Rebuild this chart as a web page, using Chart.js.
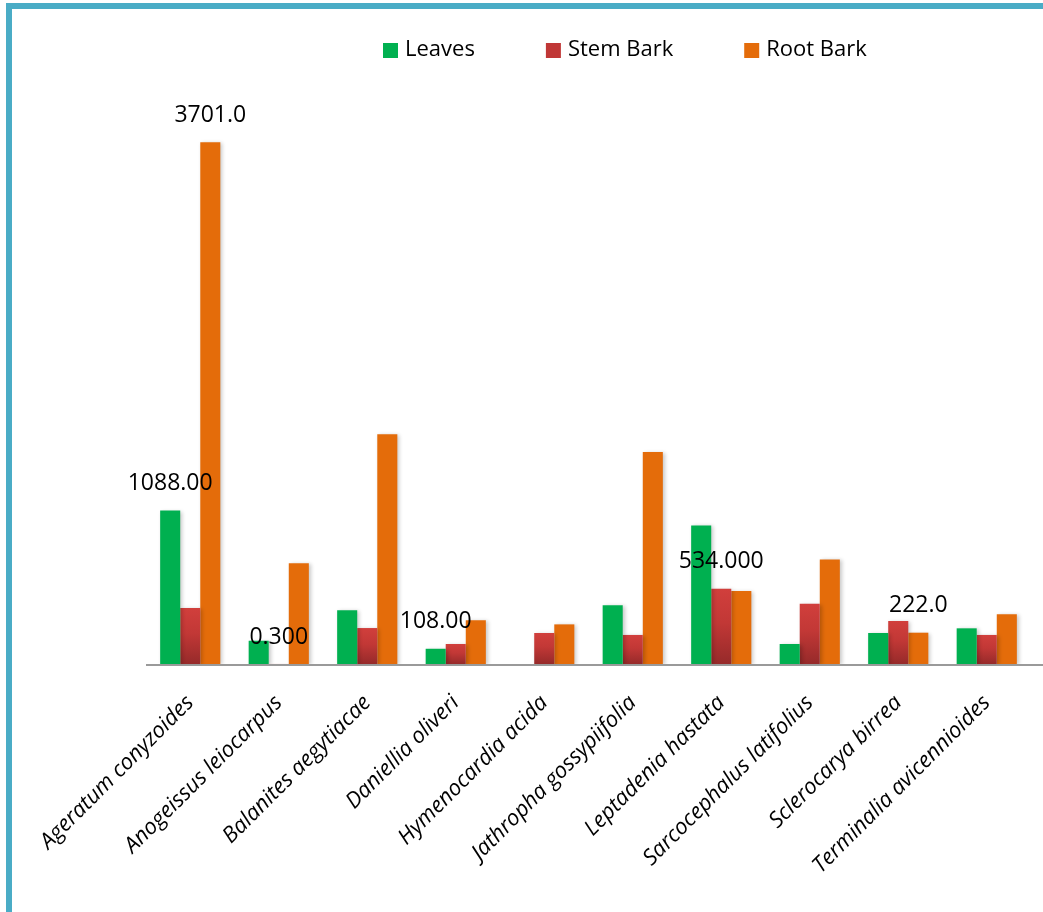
<!DOCTYPE html>
<html>
<head>
<meta charset="utf-8">
<script src="https://cdn.jsdelivr.net/npm/chart.js@4/dist/chart.umd.min.js"></script>
<style>
    body { margin: 0; background: #fff; }
    #wrap { position: relative; width: 1043px; height: 912px; overflow: hidden; }
    #frame {
        position: absolute; left: 6px; top: 3px; right: -10px; bottom: -10px;
        border-left: 6px solid #4aacc6; border-top: 6px solid #4aacc6;
    }
    canvas { position: absolute; left: 0; top: 0; }
</style>
</head>
<body>
<div id="wrap">
    <canvas id="chartPlants" width="1043" height="912"></canvas>
    <div id="frame"></div>
</div>
<script>
// 식물 이름
const categories = [
    'Ageratum conyzoides', 'Anogeissus leiocarpus', 'Balanites aegytiacae',
    'Daniellia oliveri', 'Hymenocardia acida', 'Jathropha gossypiifolia',
    'Leptadenia hastata', 'Sarcocephalus latifolius', 'Sclerocarya birrea',
    'Terminalia avicennioides'
];

// 부위별 값
const leaves   = [1088, 165, 381, 108, 0, 416, 983, 142, 220, 253];
const stemBark = [397, 0.3, 255, 142, 220, 206, 534, 428, 305, 206];
const rootBark = [3701, 714, 1629, 310, 281, 1503, 518, 742, 222, 352];

// 막대 위 숫자 라벨
const leavesLabels   = ['1088.00', '', '', '108.00', '', '', '', '', '', ''];
const stemBarkLabels = ['', '0.300', '', '', '', '', '534.000', '', '', ''];
const rootBarkLabels = ['3701.0', '', '', '', '', '', '', '', '222.0', ''];

const FONT = '"Open Sans", "DejaVu Sans", sans-serif';

// 줄기 껍질 막대 그라데이션
function stemGradient(context) {
    const chart = context.chart;
    const yScale = chart.scales.y;
    if (!chart.chartArea || !yScale) return '#c83b3a';
    const v = context.raw || 0;
    const top = yScale.getPixelForValue(v);
    const bottom = yScale.getPixelForValue(0);
    if (!(bottom - top > 1)) return '#c83b3a';
    const g = chart.ctx.createLinearGradient(0, top, 0, bottom);
    g.addColorStop(0, '#d13f3c');
    g.addColorStop(0.45, '#c23836');
    g.addColorStop(1, '#962a2a');
    return g;
}

// 그림자, 기준선, 라벨, 범례 플러그인
const decoPlugin = {
    id: 'deco',
    beforeDatasetsDraw(chart) {
        const ctx = chart.ctx;
        const y0 = chart.scales.y.getPixelForValue(0);
        ctx.save();
        ctx.strokeStyle = '#9a9a9a';
        ctx.lineWidth = 2;
        ctx.beginPath();
        ctx.moveTo(chart.chartArea.left, y0 + 1);
        ctx.lineTo(chart.width, y0 + 1);
        ctx.stroke();
        ctx.restore();
        ctx.save();
        ctx.shadowColor = 'rgba(0,0,0,0.22)';
        ctx.shadowBlur = 4;
        ctx.shadowOffsetX = 2;
        ctx.shadowOffsetY = 1;
    },
    afterDatasetsDraw(chart) {
        const ctx = chart.ctx;
        ctx.restore();
        const allLabels = [leavesLabels, stemBarkLabels, rootBarkLabels];
        ctx.save();
        ctx.font = '23px ' + FONT;
        ctx.fillStyle = '#000';
        ctx.textAlign = 'center';
        ctx.textBaseline = 'middle';
        allLabels.forEach(function(list, ds) {
            const meta = chart.getDatasetMeta(ds);
            list.forEach(function(txt, i) {
                if (!txt) return;
                const bar = meta.data[i];
                ctx.fillText(txt, bar.x, bar.y - 27);
            });
        });
        ctx.restore();

        // 범례
        ctx.save();
        ctx.font = '22px ' + FONT;
        ctx.textBaseline = 'middle';
        let x = 383;
        const y = 50;
        chart.data.datasets.forEach(function(ds) {
            ctx.fillStyle = ds.legendColor;
            ctx.fillRect(x, y - 7, 15, 15);
            ctx.fillStyle = '#000';
            ctx.textAlign = 'left';
            ctx.fillText(ds.label, x + 22, y);
            x += 22 + ctx.measureText(ds.label).width + 71;
        });
        ctx.restore();
    }
};

const ctx1 = document.getElementById('chartPlants').getContext('2d');
const chartPlants = new Chart(ctx1, {
    type: 'bar',
    data: {
        labels: categories,
        datasets: [{
            label: 'Leaves',
            data: leaves,
            backgroundColor: '#00b050',
            legendColor: '#00b050',
            borderWidth: 0
        }, {
            label: 'Stem Bark',
            data: stemBark,
            backgroundColor: stemGradient,
            legendColor: '#c03736',
            borderWidth: 0
        }, {
            label: 'Root Bark',
            data: rootBark,
            backgroundColor: '#e46c0a',
            legendColor: '#e46c0a',
            borderWidth: 0
        }]
    },
    options: {
        responsive: false,
        animation: false,
        maintainAspectRatio: false,
        layout: {
            padding: { left: 146, right: 12, top: 100, bottom: 0 }
        },
        datasets: {
            bar: { categoryPercentage: 0.68, barPercentage: 1.0 }
        },
        scales: {
            x: {
                grid: { display: false },
                border: { display: false },
                ticks: {
                    color: '#000',
                    minRotation: 45,
                    maxRotation: 45,
                    padding: 18,
                    font: { family: FONT, size: 22, style: 'italic' }
                },
                afterFit(scale) { scale.height = 248; }
            },
            y: {
                display: false,
                min: 0,
                max: 4000
            }
        },
        plugins: {
            legend: { display: false },
            title: { display: false },
            tooltip: { enabled: false }
        }
    },
    plugins: [decoPlugin]
});
</script>
</body>
</html>
